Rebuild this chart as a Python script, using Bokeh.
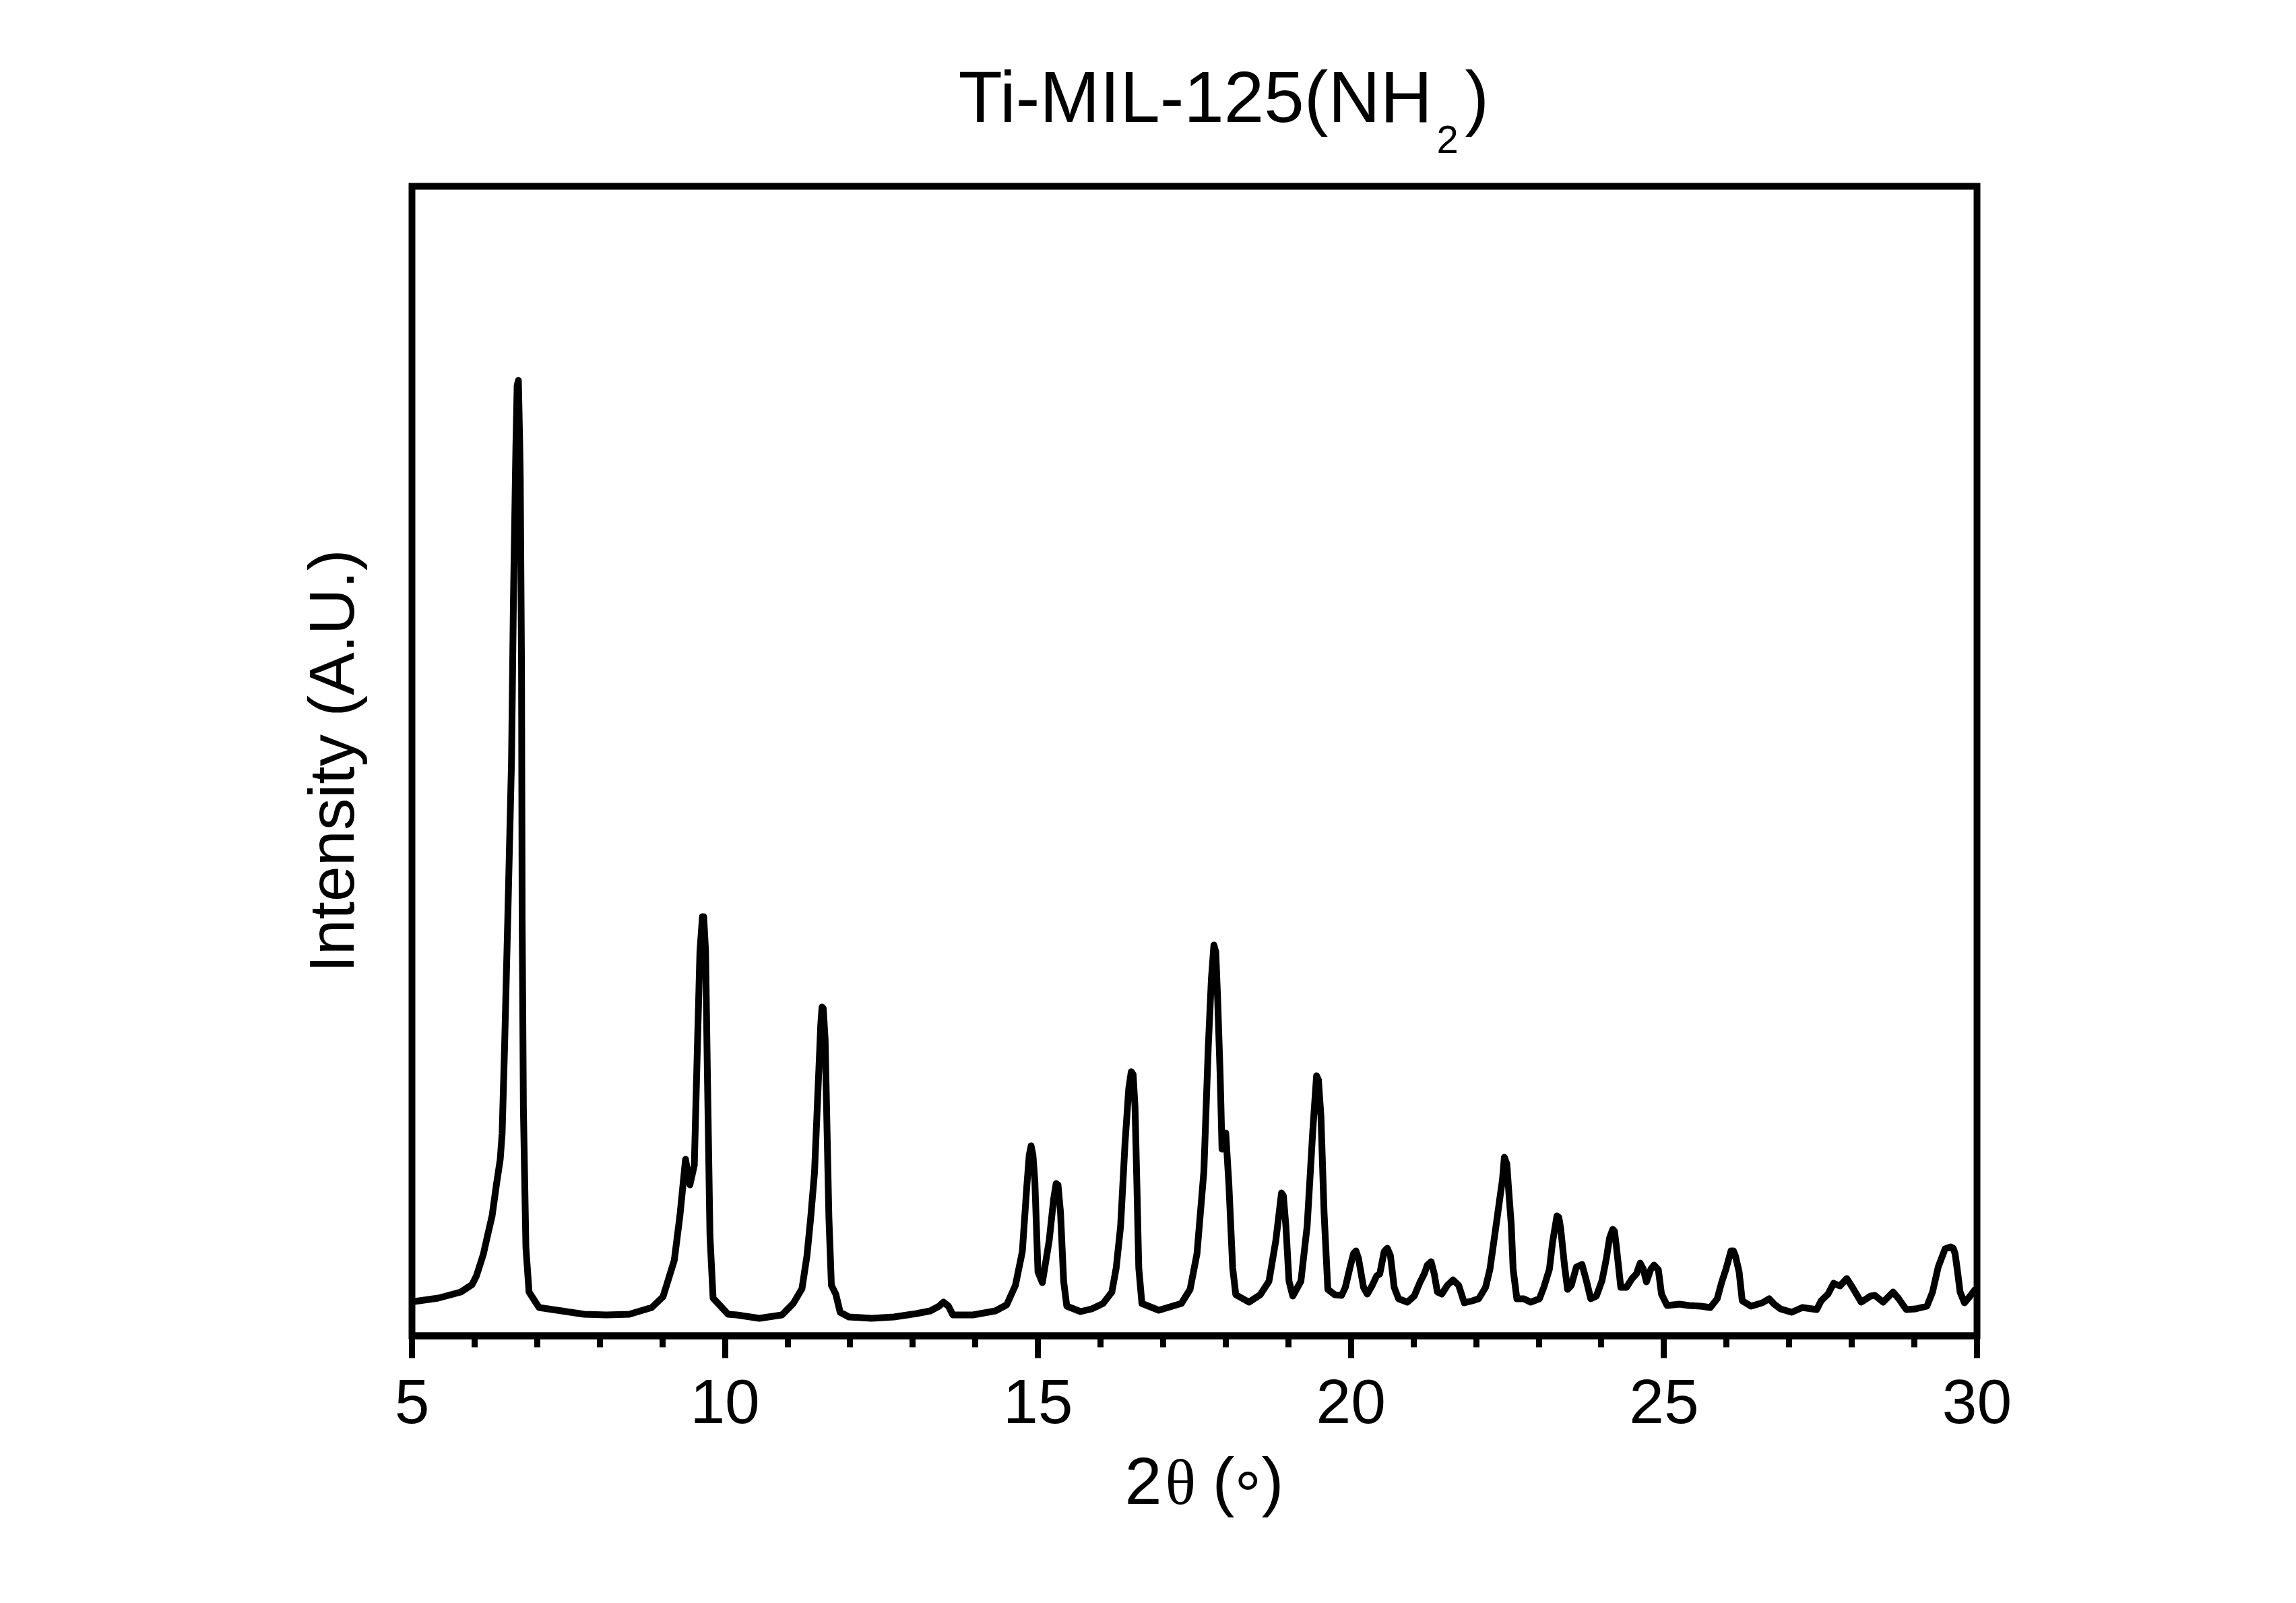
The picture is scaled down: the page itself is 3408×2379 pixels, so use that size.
import math
from bokeh.plotting import figure
from bokeh.models import Range1d, SingleIntervalTicker, Label
from bokeh.embed import file_html
from bokeh.resources import INLINE

# ---- data (2theta in degrees, intensity in arbitrary units) ----
two_theta = [
    5.04, 5.42, 5.78, 5.96, 6.03, 6.14, 6.21, 6.28, 6.35, 6.41, 6.44, 6.48, 6.53, 6.59, 6.62, 6.66, 6.68,
    6.70, 6.72, 6.73, 6.75, 6.76,
    6.78, 6.82, 6.87, 7.03, 7.39, 7.75, 8.11, 8.47, 8.83, 9.01, 9.19, 9.28, 9.37, 9.44, 9.51, 9.56,
    9.60, 9.64, 9.66, 9.69, 9.72, 9.76, 9.81, 10.05, 10.19, 10.55, 10.91, 11.09, 11.23, 11.31, 11.37, 11.43,
    11.48, 11.53, 11.55, 11.57, 11.60, 11.63, 11.66, 11.70, 11.77, 11.84, 11.98, 12.34, 12.70, 13.06, 13.28,
    13.42, 13.49, 13.57, 13.64, 13.96, 14.32, 14.50, 14.64, 14.75, 14.82, 14.86, 14.89, 14.92, 14.95, 15.00,
    15.07, 15.18, 15.25, 15.29, 15.32, 15.36, 15.41, 15.46, 15.68, 15.86, 16.04, 16.18, 16.25, 16.32, 16.39,
    16.45, 16.49, 16.52, 16.55, 16.58, 16.61, 16.66, 16.93, 17.29, 17.43, 17.54, 17.65, 17.72, 17.77, 17.81,
    17.84, 17.87, 17.91, 17.94, 18.00, 18.05, 18.11, 18.16, 18.37, 18.55, 18.69, 18.80, 18.89, 18.92, 18.96, 19.01,
    19.07, 19.20, 19.30, 19.39, 19.45, 19.48, 19.52, 19.57, 19.63, 19.74, 19.85, 19.91, 19.98, 20.04, 20.08,
    20.12, 20.20, 20.26, 20.34, 20.41, 20.46, 20.53, 20.58, 20.63, 20.69, 20.76, 20.90, 21.01, 21.10,
    21.17, 21.22, 21.28, 21.33, 21.38, 21.45, 21.54, 21.63, 21.72, 21.81, 21.94, 22.04, 22.15, 22.22,
    22.27, 22.33, 22.37, 22.42, 22.45, 22.49, 22.52, 22.56, 22.59, 22.65, 22.76, 22.87, 23.01, 23.08,
    23.17, 23.22, 23.29, 23.32, 23.35, 23.41, 23.46, 23.52, 23.60, 23.69, 23.76, 23.83, 23.92, 24.01, 24.08,
    24.13, 24.18, 24.21, 24.24, 24.31, 24.40, 24.49, 24.56, 24.62, 24.67, 24.72, 24.79, 24.84, 24.91, 24.96,
    25.05, 25.25, 25.40, 25.59, 25.74, 25.85, 25.92, 25.99, 26.07, 26.11, 26.14, 26.20, 26.25, 26.39, 26.57,
    26.68, 26.76, 26.86, 27.04, 27.21, 27.44, 27.51, 27.62, 27.71, 27.81, 27.92, 28.01, 28.15, 28.30,
    28.37, 28.50, 28.66, 28.75, 28.87, 29.02, 29.20, 29.29, 29.38, 29.49, 29.58, 29.62, 29.65, 29.69, 29.73,
    29.80, 29.89, 29.98,
]
intensity = [
    51, 56, 65, 76, 89, 121, 150, 178, 225, 262, 300, 431, 618, 853, 1087, 1321, 1410,
    1418, 1330, 1274, 993, 618,
    337, 131, 65, 42, 37, 32, 31, 32, 42, 58, 112, 178, 262, 224, 253, 431,
    571, 622, 622, 571, 384, 149, 56, 32, 31, 26, 31, 48, 70, 119, 176, 242,
    352, 462, 488, 486, 440, 308, 176, 75, 62, 35, 28, 26, 28, 33, 37,
    44, 50, 44, 31, 31, 37, 46, 75, 125, 220, 268, 282, 268, 230, 95,
    79, 142, 203, 226, 224, 183, 81, 44, 36, 40, 48, 65, 101, 163, 285,
    367, 392, 388, 340, 224, 101, 48, 38, 48, 69, 122, 244, 428, 530, 580,
    570, 500, 387, 277, 301, 224, 101, 61, 50, 61, 81, 142, 212, 208, 163, 81,
    59, 81, 163, 305, 386, 380, 326, 183, 69, 61, 60, 72, 100, 122, 126,
    115, 72, 62, 75, 89, 92, 125, 130, 119, 72, 55, 50, 59, 79,
    92, 105, 110, 92, 65, 62, 75, 83, 75, 49, 52, 55, 72, 99,
    132, 172, 199, 232, 265, 255, 215, 165, 99, 55, 55, 50, 55, 72,
    99, 139, 178, 176, 159, 105, 69, 75, 102, 106, 82, 55, 59, 82, 115,
    145, 158, 155, 132, 72, 72, 85, 92, 108, 99, 80, 99, 105, 98, 62,
    45, 47, 45, 44, 42, 55, 79, 99, 126, 126, 119, 95, 52, 44, 49,
    55, 47, 40, 35, 42, 39, 52, 62, 78, 74, 85, 72, 50, 59,
    60, 50, 65, 55, 39, 40, 44, 65, 102, 129, 132, 130, 122, 95, 65,
    49, 59, 70,
]

x_ticks_major = [5, 10, 15, 20, 25, 30]
title_main = "Ti-MIL-125(NH"
title_sub = "2"
title_end = ")"
x_label_parts = ["2", "\u03b8", "(", "\u00b0", ")"]
y_label = "Intensity (A.U.)"

# ---- layout (pixel positions of the plot box in the 3408 x 2379 page) ----
W, H = 3408, 2379
FL, FR, FT, FB = 611, 2934, 276, 1982
X0, X1 = x_ticks_major[0], x_ticks_major[-1]
px_per_x = (FR - FL) / (X1 - X0)
Y_TOP = FB - FT          # intensity value at the top edge of the box
BASE_SHIFT = 0.41        # measured offset of Bokeh's alphabetic baseline, in em

# the Bokeh frame covers the whole page; the data box is drawn inside it
p = figure(width=W, height=H, output_backend="svg", toolbar_location=None,
           title_location=None, y_axis_location=None,
           x_range=Range1d(X0 - FL / px_per_x, X1 + (W - FR) / px_per_x),
           y_range=Range1d(FB - H, FB),
           min_border=0, min_border_left=0, min_border_right=0,
           min_border_top=0, min_border_bottom=0)
p.background_fill_color = "white"
p.border_fill_color = "white"
p.grid.visible = False
p.outline_line_color = None

p.line(two_theta, intensity, line_color="black", line_width=10, line_join="round")

# plot box
p.quad(left=[X0], right=[X1], bottom=[0], top=[Y_TOP], fill_color=None,
       line_color="black", line_width=10, line_join="miter")

ax = p.xaxis[0]
ax.fixed_location = 0
ax.bounds = (X0, X1)
ax.ticker = SingleIntervalTicker(interval=5, num_minor_ticks=5)
ax.axis_line_width = 10
ax.axis_line_color = "black"
ax.major_tick_in = 0
ax.major_tick_out = 33
ax.minor_tick_in = 0
ax.minor_tick_out = 17
ax.major_tick_line_width = 9
ax.minor_tick_line_width = 9
ax.major_tick_line_color = "black"
ax.minor_tick_line_color = "black"
ax.major_label_text_font = "Liberation Sans"
ax.major_label_text_font_size = "93px"
ax.major_label_text_color = "black"
ax.major_label_standoff = 32


def sx(px):
    return X0 + (px - FL) / px_per_x


def sy(py):
    return FB - py


def add_text(text, px, py, size, font="Liberation Sans", rotated=False, align="left"):
    shift = BASE_SHIFT * size
    if rotated:
        px, angle = px - shift, math.pi / 2
    else:
        py, angle = py - shift, 0.0
    p.add_layout(Label(x=sx(px), y=sy(py), text=text, text_font=font,
                       text_font_size=f"{size}px", text_color="black",
                       text_align=align, text_baseline="alphabetic", angle=angle))


# title with subscript (pixel positions of the glyph baselines)
add_text(title_main, 1422, 187, 107)
add_text(title_sub, 2132, 230, 58)
add_text(title_end, 2174, 187, 107)

# x axis label: 2θ (°)
add_text(x_label_parts[0], 1669, 2238, 99)
add_text(x_label_parts[1], 1729, 2238, 95, font="Liberation Serif")
add_text(x_label_parts[2], 1799, 2238, 99)
add_text(x_label_parts[3], 1832, 2258, 99)
add_text(x_label_parts[4], 1872, 2238, 99)

# y axis label
add_text(y_label, 530, (FT + FB) / 2, 95, rotated=True, align="center")

open("out.html", "w").write(file_html(p, INLINE))
